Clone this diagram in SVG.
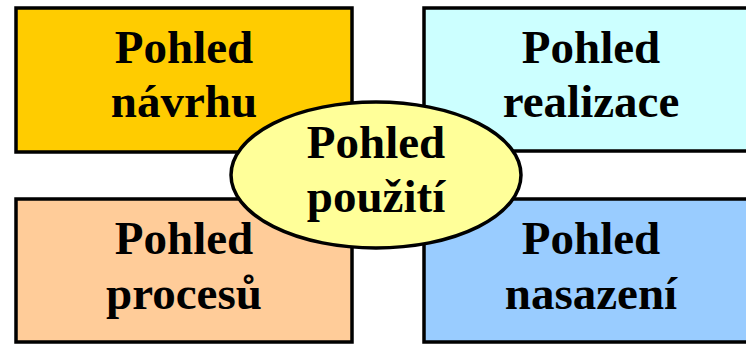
<svg xmlns="http://www.w3.org/2000/svg" width="746" height="344" viewBox="0 0 746 344">
<style>
.box{stroke:#000;stroke-width:3.5}
.t{font-family:"Liberation Serif","Times New Roman",serif;font-weight:bold;font-size:47px;text-anchor:middle;fill:#000}
</style>
<rect width="746" height="344" fill="#fff"/>
<g id="navrhu">
<rect class="box" x="16" y="8" width="336" height="144" fill="#FFCC00"/>
<text class="t" x="184" y="63">Pohled</text>
<text class="t" x="184" y="117">návrhu</text>
</g>
<g id="realizace">
<rect class="box" x="424" y="8" width="336" height="143" fill="#CCFFFF"/>
<text class="t" x="591" y="63">Pohled</text>
<text class="t" x="591" y="117">realizace</text>
</g>
<g id="procesu">
<rect class="box" x="16" y="199" width="336" height="143" fill="#FFCC99"/>
<text class="t" x="184" y="254">Pohled</text>
<text class="t" x="184" y="309">procesů</text>
</g>
<g id="nasazeni">
<rect class="box" x="424" y="199" width="336" height="143" fill="#99CCFF"/>
<text class="t" x="591" y="254">Pohled</text>
<text class="t" x="591" y="309">nasazení</text>
</g>
<g id="connectors"></g>
<g id="pouziti">
<ellipse class="box" cx="376" cy="175" rx="145" ry="73" fill="#FFFF99"/>
<text class="t" x="376" y="158">Pohled</text>
<text class="t" x="376" y="212">použití</text>
</g>
</svg>
